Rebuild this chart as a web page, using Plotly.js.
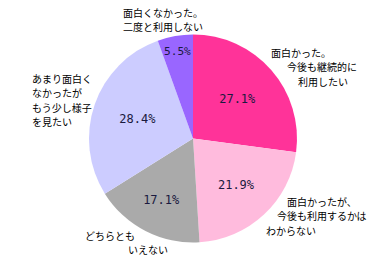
<!DOCTYPE html>
<html><head><meta charset="utf-8">
<script src="https://cdn.plot.ly/plotly-3.0.1.min.js"></script>
<style>html,body{margin:0;padding:0;background:#fff;}#chart{width:390px;height:257px;}</style>
</head><body><div id="chart"></div>
<script>
const categories = [
  "面白かった。今後も継続的に利用したい",
  "面白かったが、今後も利用するかはわからない",
  "どちらともいえない",
  "あまり面白くなかったがもう少し様子を見たい",
  "面白くなかった。二度と利用しない"
];
const values = [27.1, 21.9, 17.1, 28.4, 5.5];
const colors = ["#ff3399", "#ffbbdd", "#aaaaaa", "#ccccff", "#9966ff"];

const labelFont = {family: "Noto Sans CJK JP", size: 10, color: "#000"};
function ann(text, x, y) {
  return {text: text, x: x / 390, y: 1 - y / 257, xref: "paper", yref: "paper",
    xanchor: "left", yanchor: "middle", align: "left", showarrow: false, font: labelFont,
    borderpad: 0};
}
const annotations = [
  ann("面白くなかった。", 122, 12), ann("二度と利用しない", 122, 27),
  ann("面白かった。", 270, 52.5), ann("今後も継続的に", 286, 67), ann("利用したい", 297, 81.5),
  ann("あまり面白く", 31, 78), ann("なかったが", 31, 92.5), ann("もう少し様子", 31, 107), ann("を見たい", 31, 121.5),
  ann("どちらとも", 84, 235), ann("いえない", 127, 249.5),
  ann("面白かったが、", 286, 201), ann("今後も利用するかは", 276, 215.5), ann("わからない", 265, 230)
];

Plotly.newPlot("chart", [{
  type: "pie",
  labels: categories,
  values: values,
  sort: false,
  direction: "clockwise",
  rotation: 0,
  marker: {colors: colors, line: {width: 0}},
  texttemplate: "%{value:.1f}%",
  textposition: "inside",
  insidetextorientation: "horizontal",
  textfont: {family: "DejaVu Sans Mono", size: 12, color: "#1a1a40"},
  hoverinfo: "none",
  domain: {x: [89/390, 297/390], y: [14/257, 223/257]}
}], {
  width: 390, height: 257,
  margin: {l: 0, r: 0, t: 0, b: 0},
  paper_bgcolor: "#fff",
  showlegend: false,
  annotations: annotations
}, {staticPlot: true});
</script></body></html>
